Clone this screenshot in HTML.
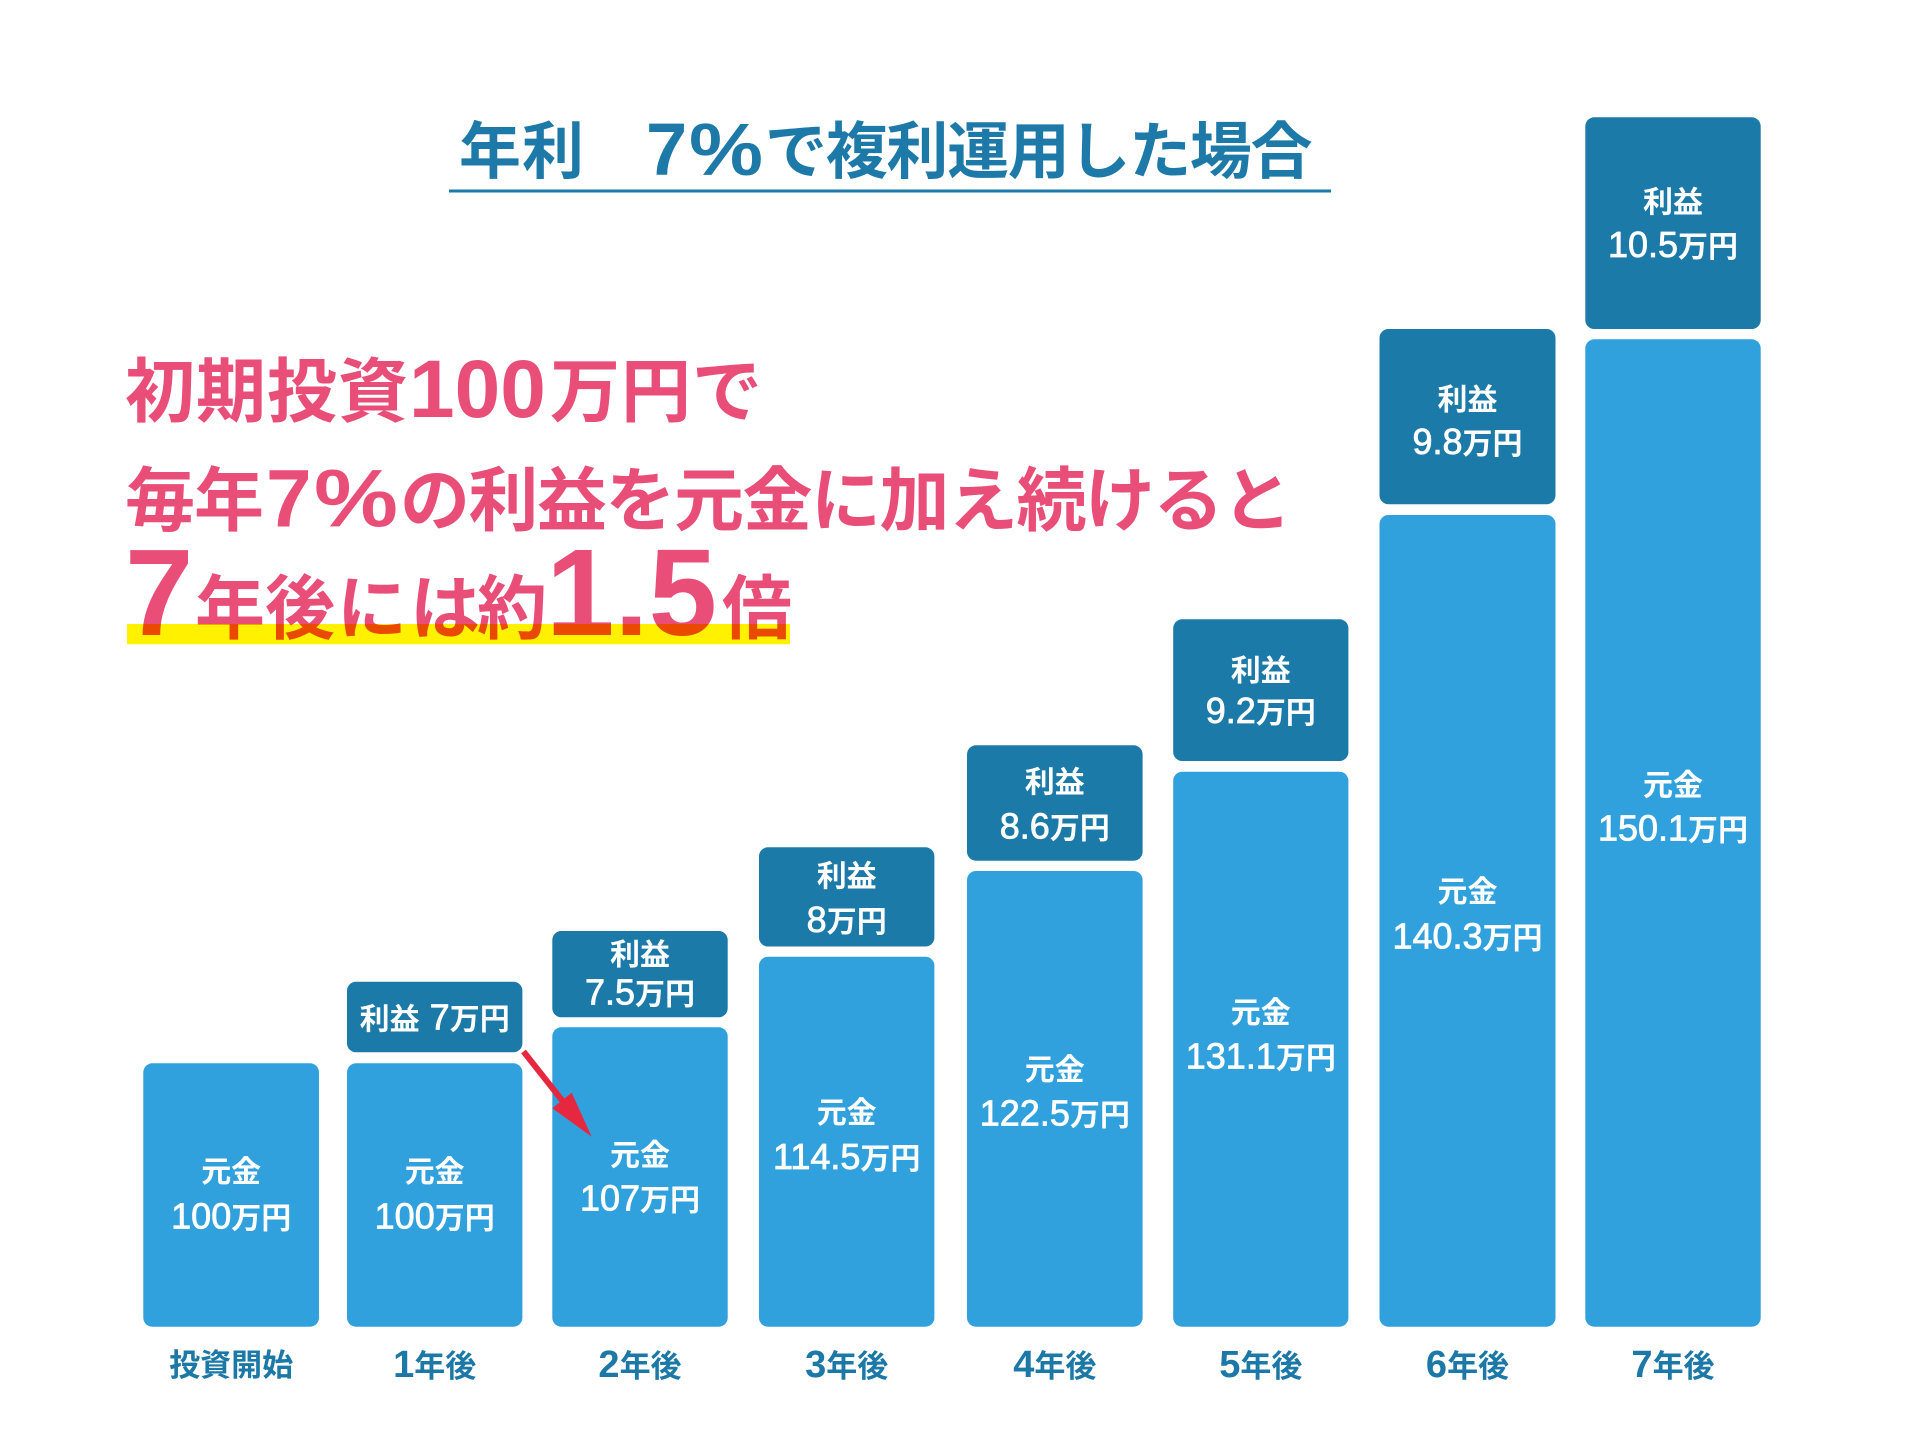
<!DOCTYPE html>
<html>
<head>
<meta charset="utf-8">
<style>
html,body{margin:0;padding:0;background:#fff;width:1910px;height:1439px;overflow:hidden}
svg{display:block}
text{white-space:pre}
.lc{font-family:"Noto Sans CJK JP","Liberation Sans",sans-serif;font-size:30px;font-weight:700}
.ln{font-family:"Liberation Sans","Noto Sans CJK JP",sans-serif;font-size:36px;font-weight:400;stroke:#fff;stroke-width:0.8px}
.ac{font-family:"Noto Sans CJK JP","Liberation Sans",sans-serif;font-size:31px;font-weight:700}
.an{font-family:"Liberation Sans","Noto Sans CJK JP",sans-serif;font-size:38px;font-weight:700}
.tc{font-family:"Noto Sans CJK JP","Liberation Sans",sans-serif;font-size:62px;font-weight:700}
.tn{font-family:"Liberation Sans","Noto Sans CJK JP",sans-serif;font-size:74px;font-weight:700}
.pc{font-family:"Noto Sans CJK JP","Liberation Sans",sans-serif;font-size:70px;font-weight:700}
.pn{font-family:"Liberation Sans","Noto Sans CJK JP",sans-serif;font-size:82px;font-weight:700}
.pb{font-family:"Liberation Sans","Noto Sans CJK JP",sans-serif;font-size:123px;font-weight:700}
</style>
</head>
<body>
<svg width="1910" height="1439" viewBox="0 0 1910 1439" xmlns="http://www.w3.org/2000/svg">
<rect x="0" y="0" width="1910" height="1439" fill="#fff"/>

<!-- Title -->
<text y="173" fill="#1d7aa8"><tspan class="tc" x="459 522">年利　</tspan><tspan class="tn" x="646" y="175">7</tspan><tspan class="tn" x="689" y="175" textLength="74" lengthAdjust="spacingAndGlyphs">%</tspan><tspan class="tc" x="765 825.7 886.4 947.1 1007.8 1068.5 1129.2 1189.9 1250.6" y="173">で複利運用した場合</tspan></text>
<rect x="449" y="189.5" width="882" height="3" fill="#1d7aa8"/>

<!-- Pink headline -->
<g fill="#e94e78">
<text y="416"><tspan class="pc" x="125 196 267 338">初期投資</tspan><tspan class="pn" x="409" y="417">100</tspan><tspan class="pc" x="550 621 692" y="416">万円で</tspan></text>
<text y="525"><tspan class="pc" x="125 194">毎年</tspan><tspan class="pn" x="266" y="526.5">7</tspan><tspan class="pn" x="314" y="526.5" textLength="84" lengthAdjust="spacingAndGlyphs">%</tspan><tspan class="pc" x="400 468.5 537 605.5 674 742.5 811 879.5 948 1016.5 1085 1153.5 1222" y="525">の利益を元金に加え続けると</tspan></text>
<text y="634"><tspan class="pb" x="125" y="635">7</tspan><tspan class="pc" x="195 265 337 410 477" y="633">年後には約</tspan><tspan class="pb" x="546" y="635">1.5</tspan><tspan class="pc" x="722" y="633">倍</tspan></text>
</g>
<rect x="127" y="624" width="663" height="20.3" fill="#fff100" style="mix-blend-mode:multiply"/>

<!-- Bars: 元金 (light) -->
<g fill="#31a1dd">
<rect x="143.3" y="1063.3" width="175.7" height="263.4" rx="9"/>
<rect x="347" y="1063.3" width="175.4" height="263.4" rx="9"/>
<rect x="552.3" y="1027.3" width="175.4" height="299.4" rx="9"/>
<rect x="759" y="956.7" width="175.4" height="370" rx="9"/>
<rect x="967" y="871" width="175.6" height="455.7" rx="9"/>
<rect x="1173.2" y="771.7" width="175.2" height="555" rx="9"/>
<rect x="1379.5" y="515" width="176" height="811.7" rx="9"/>
<rect x="1585.3" y="339.3" width="175.4" height="987.4" rx="9"/>
</g>
<!-- Bars: 利益 (dark) -->
<g fill="#1c7aa8">
<rect x="347" y="981.7" width="175.4" height="70.6" rx="9"/>
<rect x="552.3" y="931" width="175.4" height="86.3" rx="9"/>
<rect x="759" y="847.3" width="175.4" height="99.2" rx="9"/>
<rect x="967" y="745.3" width="175.6" height="115.4" rx="9"/>
<rect x="1173.2" y="619.3" width="175.2" height="141.7" rx="9"/>
<rect x="1379.5" y="329" width="176" height="175.3" rx="9"/>
<rect x="1585.3" y="117.3" width="175.4" height="211.7" rx="9"/>
</g>

<!-- Arrow -->
<line x1="523.5" y1="1051.5" x2="563" y2="1101.5" stroke="#e5283f" stroke-width="6"/>
<polygon points="591.7,1136.7 552.3,1108.3 571.7,1092.7" fill="#e5283f"/>

<!-- Bar labels -->
<g fill="#fff" text-anchor="middle">
<!-- bar 0 -->
<text x="231.2" y="1182"><tspan class="lc">元金</tspan></text>
<text x="231.2" y="1228.5"><tspan class="ln">100</tspan><tspan class="lc">万円</tspan></text>
<!-- bar 1 -->
<text x="434.7" y="1029.5"><tspan class="lc">利益</tspan><tspan class="ln"> 7</tspan><tspan class="lc">万円</tspan></text>
<text x="434.7" y="1182"><tspan class="lc">元金</tspan></text>
<text x="434.7" y="1228.5"><tspan class="ln">100</tspan><tspan class="lc">万円</tspan></text>
<!-- bar 2 -->
<text x="640" y="965"><tspan class="lc">利益</tspan></text>
<text x="640" y="1004.5"><tspan class="ln">7.5</tspan><tspan class="lc">万円</tspan></text>
<text x="640" y="1165.5"><tspan class="lc">元金</tspan></text>
<text x="640" y="1210.5"><tspan class="ln">107</tspan><tspan class="lc">万円</tspan></text>
<!-- bar 3 -->
<text x="846.7" y="886.5"><tspan class="lc">利益</tspan></text>
<text x="846.7" y="931.8"><tspan class="ln">8</tspan><tspan class="lc">万円</tspan></text>
<text x="846.7" y="1123"><tspan class="lc">元金</tspan></text>
<text x="846.7" y="1168.8"><tspan class="ln">114.5</tspan><tspan class="lc">万円</tspan></text>
<!-- bar 4 -->
<text x="1054.8" y="792.5"><tspan class="lc">利益</tspan></text>
<text x="1054.8" y="838.5"><tspan class="ln">8.6</tspan><tspan class="lc">万円</tspan></text>
<text x="1054.8" y="1080"><tspan class="lc">元金</tspan></text>
<text x="1054.8" y="1125.5"><tspan class="ln">122.5</tspan><tspan class="lc">万円</tspan></text>
<!-- bar 5 -->
<text x="1260.8" y="681"><tspan class="lc">利益</tspan></text>
<text x="1260.8" y="723"><tspan class="ln">9.2</tspan><tspan class="lc">万円</tspan></text>
<text x="1260.8" y="1023"><tspan class="lc">元金</tspan></text>
<text x="1260.8" y="1068.5"><tspan class="ln">131.1</tspan><tspan class="lc">万円</tspan></text>
<!-- bar 6 -->
<text x="1467.5" y="410"><tspan class="lc">利益</tspan></text>
<text x="1467.5" y="454"><tspan class="ln">9.8</tspan><tspan class="lc">万円</tspan></text>
<text x="1467.5" y="902"><tspan class="lc">元金</tspan></text>
<text x="1467.5" y="948.5"><tspan class="ln">140.3</tspan><tspan class="lc">万円</tspan></text>
<!-- bar 7 -->
<text x="1673" y="212.5"><tspan class="lc">利益</tspan></text>
<text x="1673" y="257"><tspan class="ln">10.5</tspan><tspan class="lc">万円</tspan></text>
<text x="1673" y="795.5"><tspan class="lc">元金</tspan></text>
<text x="1673" y="840.3"><tspan class="ln">150.1</tspan><tspan class="lc">万円</tspan></text>
</g>

<!-- Axis labels -->
<g fill="#1c78a6" text-anchor="middle">
<text x="231.2" y="1376"><tspan class="ac">投資開始</tspan></text>
<text x="434.7" y="1377"><tspan class="an">1</tspan><tspan class="ac">年後</tspan></text>
<text x="640" y="1377"><tspan class="an">2</tspan><tspan class="ac">年後</tspan></text>
<text x="846.7" y="1377"><tspan class="an">3</tspan><tspan class="ac">年後</tspan></text>
<text x="1054.8" y="1377"><tspan class="an">4</tspan><tspan class="ac">年後</tspan></text>
<text x="1260.8" y="1377"><tspan class="an">5</tspan><tspan class="ac">年後</tspan></text>
<text x="1467.5" y="1377"><tspan class="an">6</tspan><tspan class="ac">年後</tspan></text>
<text x="1673" y="1377"><tspan class="an">7</tspan><tspan class="ac">年後</tspan></text>
</g>
</svg>
</body>
</html>
